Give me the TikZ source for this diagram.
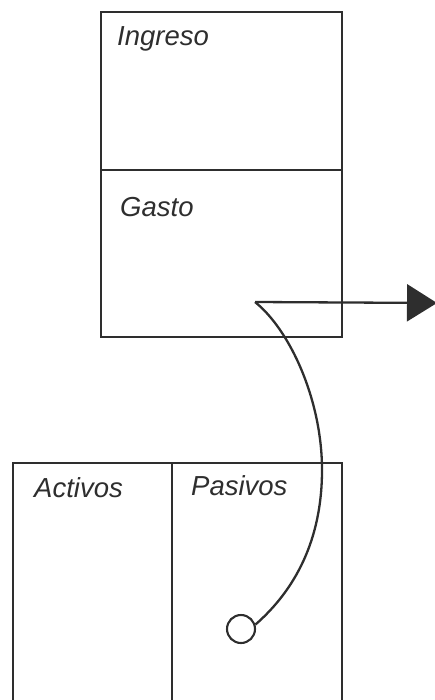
\documentclass[tikz,border=0pt]{standalone}
\usepackage{fontspec}
\setmainfont{Liberation Sans}
\usetikzlibrary{arrows.meta}
\definecolor{ink}{HTML}{2E2E2E}
\begin{document}
\begin{tikzpicture}[x=1pt,y=-1pt,
  cell/.style={draw=ink,line width=2.3pt,inner sep=0pt,outer sep=0pt},
  lbl/.style={anchor=base west,inner sep=0pt,text=ink,font=\fontsize{27.5}{32}\selectfont\itshape},
  conn/.style={draw=ink,line width=2.3pt}]
\useasboundingbox (0,0) rectangle (435,700);
\clip (0,0) rectangle (435,700);
% top box
\node[cell,minimum width=241pt,minimum height=158pt] (ing) at (221.5,91) {};
\node[cell,minimum width=241pt,minimum height=167pt] (gas) at (221.5,253.5) {};
% bottom box (open at the bottom, cut off by the page)
\node[cell,minimum width=159pt,minimum height=260pt] (act) at (92.5,593) {};
\node[cell,minimum width=170pt,minimum height=260pt] (pas) at (257,593) {};
% labels
\node[lbl] (tIng) at (117,46) {Ingreso};
\node[lbl] (tGas) at (120,217) {Gasto};
\node[lbl] (tAct) at (34,497) {Activos};
\node[lbl] (tPas) at (191,495) {Pasivos};
% connectors
\coordinate (s) at (255,302);
\coordinate (tip) at (437,303);
\coordinate (m) at (322,470);
\node[draw=ink,line width=2.1pt,circle,minimum size=28pt,inner sep=0pt] (c) at (241,629) {};
\draw[conn,-{Triangle[length=30pt,width=37pt]}] (s) -- (tip);
\draw[conn] (s) .. controls (290,330) and (322,400) .. (m)
  .. controls (322,540) and (295,590) .. (c.17);
\end{tikzpicture}
\end{document}
